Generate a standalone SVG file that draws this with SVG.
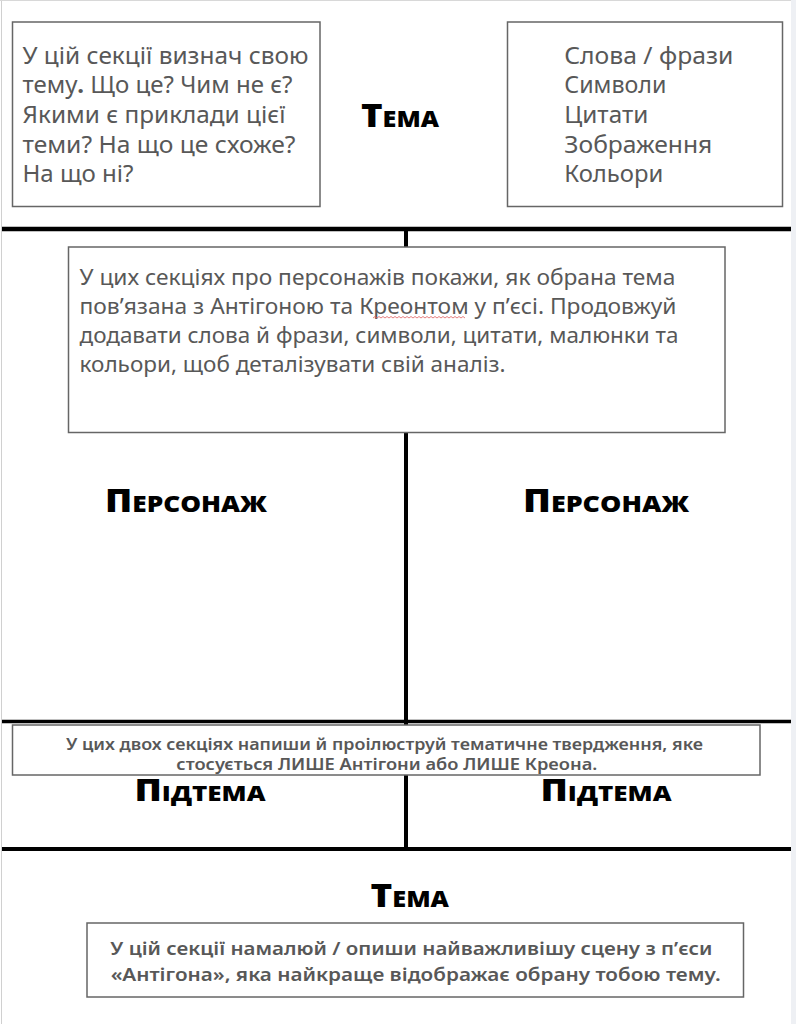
<svg xmlns="http://www.w3.org/2000/svg" width="796" height="1024" viewBox="0 0 796 1024">
<style>
.body{font-family:"Noto Sans","Open Sans",sans-serif;fill:#585858;}
.head{font-family:"Open Sans","Noto Sans",sans-serif;font-weight:800;font-variant:small-caps;fill:#000;}
.box{fill:#fff;stroke:#666;stroke-width:1.5;}
.rule{stroke:#000;fill:none;}
</style>
<rect x="0" y="0" width="796" height="1024" fill="#fff"/>
<rect x="791" y="0" width="5" height="1024" fill="#eef0f4"/>
<line x1="1.5" y1="0" x2="1.5" y2="1024" stroke="#d0d0d0" stroke-width="1"/>
<line x1="0" y1="0.5" x2="791" y2="0.5" stroke="#d8d8d8" stroke-width="1"/>

<g id="connectors">
<line class="rule" x1="2" y1="229" x2="791" y2="229" stroke-width="4.5"/>
<line class="rule" x1="2" y1="721.5" x2="791" y2="721.5" stroke-width="3.5"/>
<line class="rule" x1="2" y1="849" x2="791" y2="849" stroke-width="4"/>
<line class="rule" x1="406" y1="229" x2="406" y2="849" stroke-width="4"/>
</g>

<g id="theme-definition">
<rect class="box" x="12.5" y="22" width="307.5" height="184.5"/>
<text class="body" font-size="23">
<tspan x="22.5" y="63.5" textLength="286" lengthAdjust="spacingAndGlyphs">У цій секції визнач свою</tspan>
<tspan x="22.5" y="93.2" textLength="270" lengthAdjust="spacingAndGlyphs">тему<tspan font-weight="700">.</tspan> Що це? Чим не є?</tspan>
<tspan x="22.5" y="122.9" textLength="263" lengthAdjust="spacingAndGlyphs">Якими є приклади цієї</tspan>
<tspan x="22.5" y="152.6" textLength="273" lengthAdjust="spacingAndGlyphs">теми? На що це схоже?</tspan>
<tspan x="22.5" y="182.3" textLength="111" lengthAdjust="spacingAndGlyphs">На що ні?</tspan>
</text>
</g>

<g id="theme-title-top">
<text class="head" font-size="32" x="361" y="126.7" textLength="78" lengthAdjust="spacingAndGlyphs">Тема</text>
</g>

<g id="theme-elements">
<rect class="box" x="507.5" y="22" width="275" height="184.5"/>
<text class="body" font-size="23">
<tspan x="564.3" y="63.5" textLength="169" lengthAdjust="spacingAndGlyphs">Слова / фрази</tspan>
<tspan x="564.3" y="93.2" textLength="102" lengthAdjust="spacingAndGlyphs">Символи</tspan>
<tspan x="564.3" y="122.9" textLength="84" lengthAdjust="spacingAndGlyphs">Цитати</tspan>
<tspan x="564.3" y="152.6" textLength="148" lengthAdjust="spacingAndGlyphs">Зображення</tspan>
<tspan x="564.3" y="182.3" textLength="99" lengthAdjust="spacingAndGlyphs">Кольори</tspan>
</text>
</g>

<g id="character-instructions">
<rect class="box" x="68.5" y="247" width="656.5" height="185.5"/>
<text class="body" font-size="21">
<tspan x="79.5" y="284.5" textLength="596" lengthAdjust="spacingAndGlyphs">У цих секціях про персонажів покажи, як обрана тема</tspan>
<tspan x="79.5" y="313.5" textLength="597" lengthAdjust="spacingAndGlyphs">пов’язана з Антігоною та Креонтом у п’єсі. Продовжуй</tspan>
<tspan x="79.5" y="342.5" textLength="599" lengthAdjust="spacingAndGlyphs">додавати слова й фрази, символи, цитати, малюнки та</tspan>
<tspan x="79.5" y="371.5" textLength="426" lengthAdjust="spacingAndGlyphs">кольори, щоб деталізувати свій аналіз.</tspan>
</text>
<path d="M373 318 l2 -1.5 l2 1.5 l2 -1.5 l2 1.5 l2 -1.5 l2 1.5 l2 -1.5 l2 1.5 l2 -1.5 l2 1.5 l2 -1.5 l2 1.5 l2 -1.5 l2 1.5 l2 -1.5 l2 1.5 l2 -1.5 l2 1.5 l2 -1.5 l2 1.5 l2 -1.5 l2 1.5 l2 -1.5 l2 1.5 l2 -1.5 l2 1.5 l2 -1.5 l2 1.5 l2 -1.5 l2 1.5 l2 -1.5 l2 1.5 l2 -1.5 l2 1.5 l2 -1.5 l2 1.5 l2 -1.5 l2 1.5 l2 -1.5 l2 1.5 l2 -1.5 l2 1.5 l2 -1.5 l2 1.5 l2 -1.5 l2 1.5" fill="none" stroke="#e06060" stroke-width="0.8"/>
</g>

<g id="character-left">
<text class="head" font-size="31" x="105" y="511.7" textLength="162" lengthAdjust="spacingAndGlyphs">Персонаж</text>
</g>
<g id="character-right">
<text class="head" font-size="31" x="523" y="511.7" textLength="166" lengthAdjust="spacingAndGlyphs">Персонаж</text>
</g>

<g id="subtheme-instructions">
<rect class="box" x="12.5" y="725" width="747.5" height="50"/>
<text class="body" font-size="15.5" font-weight="600" text-anchor="middle">
<tspan x="386.5" y="749.5" textLength="637" lengthAdjust="spacingAndGlyphs">У цих двох секціях напиши й проілюструй тематичне твердження, яке</tspan>
<tspan x="386.8" y="769.5" textLength="421" lengthAdjust="spacingAndGlyphs">стосується ЛИШЕ Антігони або ЛИШЕ Креона.</tspan>
</text>
</g>

<g id="subtheme-left">
<text class="head" font-size="30" x="134.5" y="801" textLength="131" lengthAdjust="spacingAndGlyphs">Підтема</text>
</g>
<g id="subtheme-right">
<text class="head" font-size="30" x="540.5" y="801" textLength="131" lengthAdjust="spacingAndGlyphs">Підтема</text>
</g>

<g id="theme-title-bottom">
<text class="head" font-size="32" x="370.5" y="906.7" textLength="78.5" lengthAdjust="spacingAndGlyphs">Тема</text>
</g>

<g id="scene-instructions">
<rect class="box" x="87" y="923" width="656.5" height="74"/>
<text class="body" font-size="18" font-weight="600" text-anchor="middle">
<tspan x="413.7" y="955" textLength="602" lengthAdjust="spacingAndGlyphs">У цій секції намалюй / опиши найважливішу сцену з п’єси</tspan>
<tspan x="415.7" y="980.7" textLength="610" lengthAdjust="spacingAndGlyphs">«Антігона», яка найкраще відображає обрану тобою тему.</tspan>
</text>
</g>
</svg>
